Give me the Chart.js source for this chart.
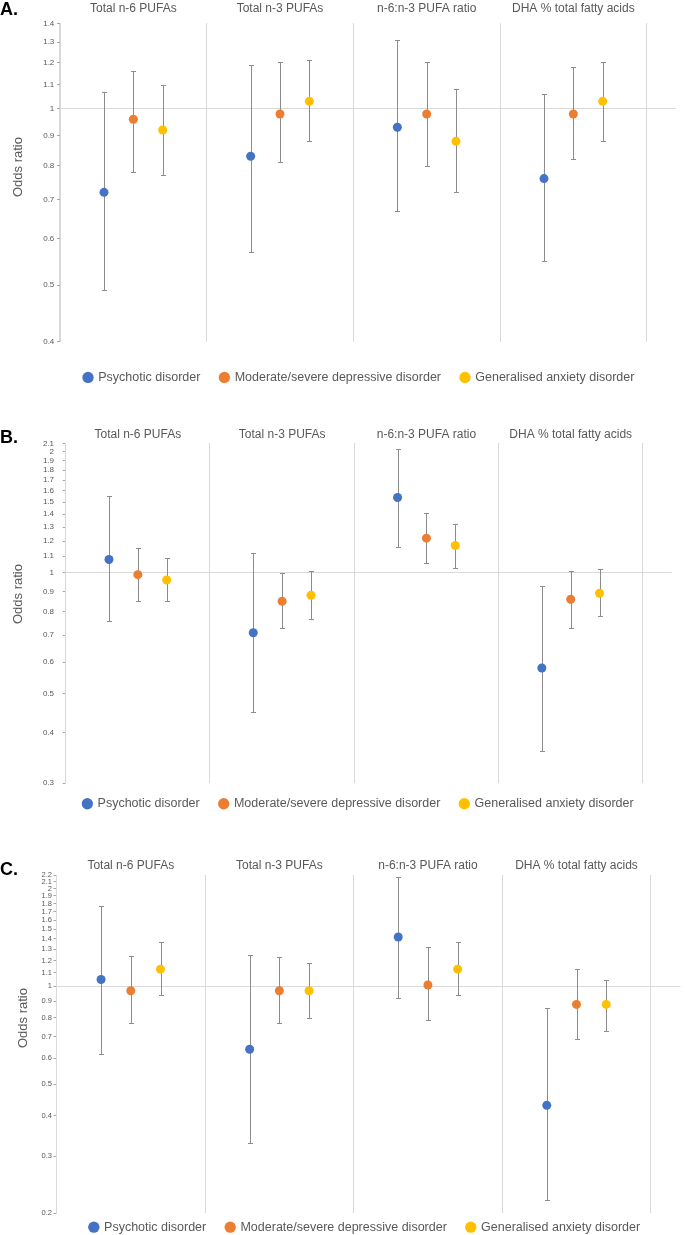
<!DOCTYPE html>
<html>
<head>
<meta charset="utf-8">
<script src="https://cdn.jsdelivr.net/npm/chart.js@4.4.1/dist/chart.umd.min.js"></script>
<style>
  body { margin: 0; background: #fff; overflow: hidden; }
  #page { position: relative; width: 685px; height: 1235px; overflow: hidden; background: #fff;
          font-family: "Liberation Sans", Arial, sans-serif; }
  canvas { position: absolute; left: 0; }
  .tag { position: absolute; left: 0; font-size: 18px; font-weight: bold; line-height: 18px; color: #000; }
  .ytitle { position: absolute; font-size: 13px; color: #595959; white-space: nowrap;
            transform: translate(-50%, -50%) rotate(-90deg); }
</style>
</head>
<body>
<div id="page">
  <canvas id="chartA"></canvas>
  <canvas id="chartB"></canvas>
  <canvas id="chartC"></canvas>
  <div class="tag" style="top:0px">A.</div>
  <div class="tag" style="top:428px">B.</div>
  <div class="tag" style="top:860px">C.</div>
  <div class="ytitle" style="left:17px; top:167px">Odds ratio</div>
  <div class="ytitle" style="left:17px; top:594px">Odds ratio</div>
  <div class="ytitle" style="left:22px; top:1018px">Odds ratio</div>
</div>
<script>
// categories and series
const categories = ['Total n-6 PUFAs', 'Total n-3 PUFAs', 'n-6:n-3 PUFA ratio', 'DHA % total fatty acids'];
const seriesNames = ['Psychotic disorder', 'Moderate/severe depressive disorder', 'Generalised anxiety disorder'];

// panel A
const aTicks = [0.4, 0.5, 0.6, 0.7, 0.8, 0.9, 1, 1.1, 1.2, 1.3, 1.4];
const aPsychoticOR = [0.72, 0.83, 0.93, 0.76];
const aPsychoticLow = [0.49, 0.57, 0.67, 0.55];
const aPsychoticHigh = [1.07, 1.19, 1.31, 1.06];
const aDepressiveOR = [0.96, 0.98, 0.98, 0.98];
const aDepressiveLow = [0.78, 0.81, 0.80, 0.82];
const aDepressiveHigh = [1.16, 1.20, 1.20, 1.18];
const aAnxietyOR = [0.92, 1.03, 0.88, 1.03];
const aAnxietyLow = [0.77, 0.88, 0.72, 0.88];
const aAnxietyHigh = [1.10, 1.21, 1.08, 1.20];

// panel B
const bTicks = [0.3, 0.4, 0.5, 0.6, 0.7, 0.8, 0.9, 1, 1.1, 1.2, 1.3, 1.4, 1.5, 1.6, 1.7, 1.8, 1.9, 2, 2.1];
const bPsychoticOR = [1.08, 0.71, 1.54, 0.58];
const bPsychoticLow = [0.76, 0.45, 1.16, 0.36];
const bPsychoticHigh = [1.55, 1.12, 2.03, 0.93];
const bDepressiveOR = [0.99, 0.85, 1.22, 0.86];
const bDepressiveLow = [0.85, 0.73, 1.06, 0.73];
const bDepressiveHigh = [1.15, 1.00, 1.41, 1.01];
const bAnxietyOR = [0.96, 0.88, 1.17, 0.89];
const bAnxietyLow = [0.85, 0.77, 1.03, 0.78];
const bAnxietyHigh = [1.09, 1.01, 1.32, 1.02];

// panel C
const cTicks = [0.2, 0.3, 0.4, 0.5, 0.6, 0.7, 0.8, 0.9, 1, 1.1, 1.2, 1.3, 1.4, 1.5, 1.6, 1.7, 1.8, 1.9, 2, 2.1, 2.2];
const cPsychoticOR = [1.05, 0.64, 1.42, 0.43];
const cPsychoticLow = [0.62, 0.33, 0.92, 0.22];
const cPsychoticHigh = [1.77, 1.25, 2.17, 0.86];
const cDepressiveOR = [0.97, 0.97, 1.01, 0.88];
const cDepressiveLow = [0.77, 0.77, 0.79, 0.69];
const cDepressiveHigh = [1.24, 1.23, 1.32, 1.13];
const cAnxietyOR = [1.13, 0.97, 1.13, 0.88];
const cAnxietyLow = [0.94, 0.80, 0.94, 0.73];
const cAnxietyHigh = [1.37, 1.18, 1.37, 1.05];

const seriesColors = ['#4472C4', '#ED7D31', '#FFC000'];
const groupOffsets = [-0.2, 0, 0.2];

Chart.defaults.font.family = '"Liberation Sans", Arial, sans-serif';
Chart.defaults.color = '#595959';

// whiskers drawn under the markers
const errorBars = {
    id: 'errorBars',
    beforeDatasetsDraw(chart) {
        const ctx = chart.ctx;
        const yScale = chart.scales.y;
        ctx.save();
        ctx.strokeStyle = '#8c8c8c';
        ctx.lineWidth = 1;
        chart.data.datasets.forEach((ds, di) => {
            chart.getDatasetMeta(di).data.forEach((pt, i) => {
                const x = Math.round(pt.x) + 0.5;
                const top = Math.round(yScale.getPixelForValue(ds.errHigh[i])) + 0.5;
                const bot = Math.round(yScale.getPixelForValue(ds.errLow[i])) + 0.5;
                ctx.beginPath();
                ctx.moveTo(x, top); ctx.lineTo(x, bot);
                ctx.moveTo(x - 2.5, top); ctx.lineTo(x + 2.5, top);
                ctx.moveTo(x - 2.5, bot); ctx.lineTo(x + 2.5, bot);
                ctx.stroke();
            });
        });
        ctx.restore();
    }
};

// shift the legend row so it sits where the original has it
const legendNudge = {
    id: 'legendNudge',
    afterLayout(chart, args, opts) {
        if (chart.legend) {
            chart.legend.top += opts.dy;
            chart.legend.bottom += opts.dy;
            chart.legend.left += opts.dx;
            chart.legend.right += opts.dx;
        }
    }
};

function buildPanel(canvasId, p) {
    const canvas = document.getElementById(canvasId);
    canvas.width = 685;
    canvas.height = p.height;
    canvas.style.top = p.top + 'px';

    const series = [
        [p.psyOR, p.psyLow, p.psyHigh],
        [p.depOR, p.depLow, p.depHigh],
        [p.anxOR, p.anxLow, p.anxHigh]
    ];

    const datasets = series.map((s, si) => ({
        label: seriesNames[si],
        data: s[0].map((v, i) => ({x: i + 0.5 + groupOffsets[si], y: v})),
        errLow: s[1],
        errHigh: s[2],
        backgroundColor: seriesColors[si],
        borderColor: seriesColors[si],
        pointRadius: 4.5,
        pointBorderWidth: 0,
        showLine: false
    }));

    return new Chart(canvas.getContext('2d'), {
        type: 'scatter',
        data: {datasets: datasets},
        plugins: [errorBars, legendNudge],
        options: {
            responsive: false,
            animation: false,
            layout: {
                padding: {left: 0, right: p.padR, top: 0, bottom: p.padB}
            },
            scales: {
                x: {
                    type: 'linear',
                    position: 'top',
                    min: 0,
                    max: 4.2,
                    afterBuildTicks: axis => {
                        axis.ticks = categories.map((c, i) => ({value: i + 0.5}));
                    },
                    afterFit: scale => { scale.height = p.topAxis; },
                    ticks: {
                        callback: v => categories[Math.floor(v)],
                        font: {size: 12},
                        color: '#595959',
                        padding: p.labelPad,
                        maxRotation: 0,
                        autoSkip: false
                    },
                    grid: {
                        offset: true,
                        color: '#d9d9d9',
                        drawTicks: false
                    },
                    border: {display: false}
                },
                y: {
                    type: 'logarithmic',
                    min: p.ticks[0],
                    max: p.ticks[p.ticks.length - 1],
                    afterBuildTicks: axis => {
                        axis.ticks = p.ticks.map(v => ({value: v}));
                    },
                    afterFit: scale => { scale.width = p.yWidth; },
                    ticks: {
                        callback: v => String(v),
                        font: {size: p.tickFont},
                        color: '#595959',
                        padding: p.tickPad,
                        autoSkip: false
                    },
                    grid: {
                        color: c => (c.tick && c.tick.value === 1) ? '#d9d9d9' : 'rgba(0,0,0,0)',
                        tickColor: '#a6a6a6',
                        tickLength: 3
                    },
                    border: {color: '#d9d9d9'}
                }
            },
            plugins: {
                legend: {
                    position: 'bottom',
                    labels: {
                        usePointStyle: true,
                        pointStyle: 'circle',
                        boxWidth: 8,
                        boxHeight: 8,
                        padding: 20,
                        font: {size: 12.5},
                        color: '#595959'
                    }
                },
                tooltip: {enabled: false},
                legendNudge: {dx: p.legendDx, dy: p.legendDy}
            }
        }
    });
}

buildPanel('chartA', {
    top: 0, height: 400, topAxis: 23.3, padR: 9, padB: 15.7,
    yWidth: 60, tickPad: 2.7, tickFont: 8, labelPad: 7.8, legendDx: 21.2, legendDy: 9.4,
    ticks: aTicks,
    psyOR: aPsychoticOR, psyLow: aPsychoticLow, psyHigh: aPsychoticHigh,
    depOR: aDepressiveOR, depLow: aDepressiveLow, depHigh: aDepressiveHigh,
    anxOR: aAnxietyOR, anxLow: aAnxietyLow, anxHigh: aAnxietyHigh
});

buildPanel('chartB', {
    top: 405, height: 430, topAxis: 38.3, padR: 13.3, padB: 9.3,
    yWidth: 65.7, tickPad: 8.7, tickFont: 8, labelPad: 1.1, legendDx: 22.65, legendDy: -5.7,
    ticks: bTicks,
    psyOR: bPsychoticOR, psyLow: bPsychoticLow, psyHigh: bPsychoticHigh,
    depOR: bDepressiveOR, depLow: bDepressiveLow, depHigh: bDepressiveHigh,
    anxOR: bAnxietyOR, anxLow: bAnxietyLow, anxHigh: bAnxietyHigh
});

buildPanel('chartC', {
    top: 835, height: 421, topAxis: 40.3, padR: 1.4, padB: 0.3,
    yWidth: 56.5, tickPad: 1.5, tickFont: 7.5, labelPad: 2.1, legendDx: 23.2, legendDy: -12.3,
    ticks: cTicks,
    psyOR: cPsychoticOR, psyLow: cPsychoticLow, psyHigh: cPsychoticHigh,
    depOR: cDepressiveOR, depLow: cDepressiveLow, depHigh: cDepressiveHigh,
    anxOR: cAnxietyOR, anxLow: cAnxietyLow, anxHigh: cAnxietyHigh
});
</script>
</body>
</html>
